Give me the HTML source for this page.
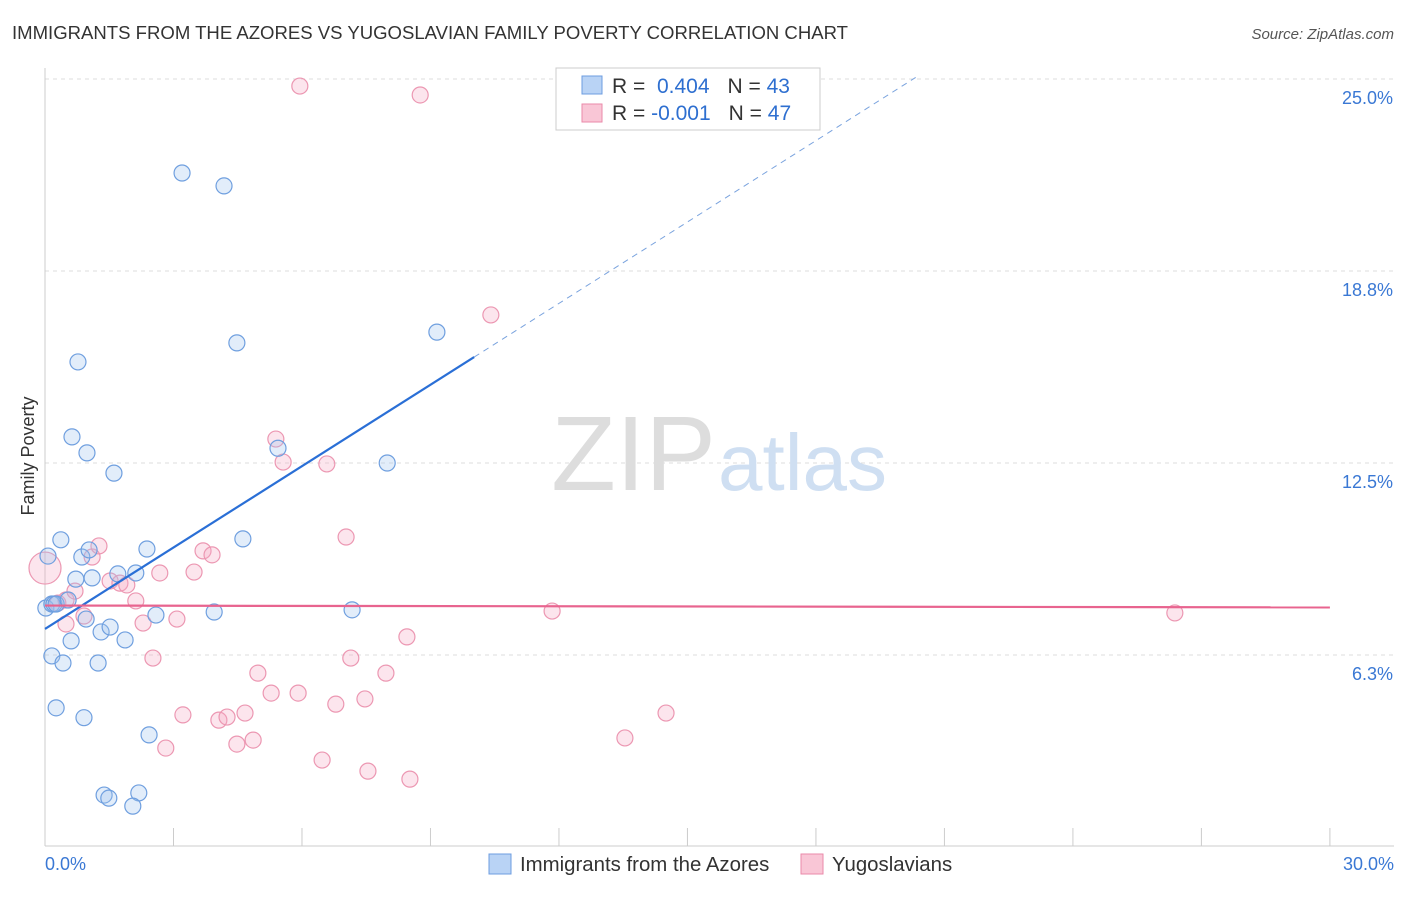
<!DOCTYPE html>
<html><head><meta charset="utf-8"><style>
body{margin:0;background:#fff;font-family:"Liberation Sans",sans-serif}
svg text{font-family:"Liberation Sans",sans-serif}
</style></head><body>
<svg id="c" width="1406" height="892">
<text x="12" y="39" font-size="18" fill="#333" textLength="836" lengthAdjust="spacingAndGlyphs">IMMIGRANTS FROM THE AZORES VS YUGOSLAVIAN FAMILY POVERTY CORRELATION CHART</text>
<text x="1394" y="39" font-size="15" fill="#555" font-style="italic" text-anchor="end">Source: ZipAtlas.com</text>
<g id="grid"></g>
<text x="716" y="490" font-size="106" fill="#ddd" text-anchor="end" font-family="Liberation Serif">ZIP</text>
<text x="718" y="490" font-size="80" fill="#cfdff2">atlas</text>
<text transform="translate(34,456) rotate(-90)" font-size="18" fill="#333" text-anchor="middle">Family Poverty</text>
<g id="pts"></g><g id="lines"></g>
<g>
<rect x="556" y="68" width="264" height="62" fill="#fff" stroke="#ccc"/>
<rect x="582" y="76" width="20" height="18" fill="#b9d3f5" stroke="#6d9de0"/>
<rect x="582" y="104" width="20" height="18" fill="#f9c6d6" stroke="#ea8aa9"/>
<text x="612" y="93" font-size="21" fill="#333">R = <tspan fill="#2e6fd0">&#160;0.404</tspan><tspan dx="18">N = </tspan><tspan fill="#2e6fd0">43</tspan></text>
<text x="612" y="120" font-size="21" fill="#333">R = <tspan fill="#2e6fd0">-0.001</tspan><tspan dx="18">N = </tspan><tspan fill="#2e6fd0">47</tspan></text>
</g>
<g>
<rect x="489" y="854" width="22" height="20" fill="#b9d3f5" stroke="#6d9de0"/>
<text x="520" y="871" font-size="20.4" fill="#333">Immigrants from the Azores</text>
<rect x="801" y="854" width="22" height="20" fill="#f9c6d6" stroke="#ea8aa9"/>
<text x="832" y="871" font-size="20.4" fill="#333">Yugoslavians</text>
</g>
</svg>
<script>
const yTicks=[25.0,18.8,12.5,6.3];
const yTickVals=[25,18.75,12.5,6.25];
const xTickLabels=["0.0%","30.0%"];
const blueX=[0.07,0.02,0.16,0.26,0.16,0.37,0.42,0.61,0.63,0.72,0.77,0.86,0.91,0.96,0.98,1.03,1.10,1.24,1.31,1.38,1.49,1.52,1.61,1.70,1.87,2.12,2.19,2.05,2.38,2.43,2.59,3.20,3.95,4.18,4.48,4.62,5.44,7.17,7.99,9.15,0.21,0.26,0.54];
const blueY=[9.47,7.78,6.22,4.53,7.91,10.00,5.99,6.71,13.35,8.72,15.79,9.44,4.21,7.42,12.83,9.67,8.76,5.99,7.00,1.69,1.59,7.16,12.17,8.89,6.74,8.92,1.76,1.33,9.70,3.65,7.55,21.94,7.65,21.52,16.41,10.03,12.98,7.72,12.50,16.76,7.91,7.91,8.04];
const pinkX=[0,0.30,0.49,0.70,0.49,0.91,1.10,1.26,1.52,1.75,1.91,2.12,2.29,2.52,2.68,2.82,3.08,3.22,3.48,3.69,3.90,4.06,4.25,4.48,4.67,4.86,4.97,5.28,5.39,5.56,5.91,5.95,6.47,6.58,6.79,7.03,7.14,7.47,7.54,7.96,8.45,8.52,8.76,10.41,11.84,13.54,14.50,26.38];
const pinkY=[9.08,7.94,8.04,8.33,7.26,7.52,9.44,9.80,8.66,8.59,8.53,8.01,7.29,6.15,8.92,3.22,7.42,4.30,8.95,9.64,9.51,4.13,4.23,3.35,4.36,3.48,5.66,5.01,13.28,12.53,5.01,24.77,2.83,12.47,4.65,10.09,6.15,4.82,2.47,5.66,6.84,2.21,24.48,17.32,7.68,3.55,4.36,7.62];
const blueFit=[7.10,0.883], pinkFit=[7.86,-0.002];
const X=v=>45+v*42.83, Y=v=>847-v*30.72;
const ns="http://www.w3.org/2000/svg";
function mk(t,a,p){const e=document.createElementNS(ns,t);for(const k in a)e.setAttribute(k,a[k]);p.appendChild(e);return e;}
const g=document.getElementById('grid');
yTickVals.forEach((v,i)=>{
 const l=mk('line',{x1:45,x2:1394,y1:Y(v),y2:Y(v),stroke:'#ddd','stroke-dasharray':'4,4'},g);
 
 
 const t=mk('text',{x:1393,y:Y(v)+25,'font-size':18,fill:'#3a78d4','text-anchor':'end'},g);
 t.textContent=yTicks[i].toFixed(1)+'%';
 
 
});
mk('line',{x1:45,x2:45,y1:68,y2:846,stroke:'#ccc'},g);
mk('line',{x1:45,x2:1394,y1:846,y2:846,stroke:'#ccc'},g);
for(let i=0;i<=10;i++){mk('line',{x1:X(i*3),x2:X(i*3),y1:828,y2:846,stroke:'#ccc'},g);}
[[0,xTickLabels[0],'start'],[30,xTickLabels[1],'end']].forEach(([v,s,a])=>{
 const t=mk('text',{x:v?1394:45,y:870,'font-size':18,fill:'#3a78d4','text-anchor':a},g);t.textContent=s;
 
 
});
const P=document.getElementById('pts');
pinkX.forEach((x,i)=>{const c=mk('circle',{cx:X(x),cy:Y(pinkY[i]),r:i==0?16:8,fill:'rgba(246,170,195,0.3)',stroke:'#ec97b2','stroke-width':1.2},P);
 
 });
blueX.forEach((x,i)=>{const c=mk('circle',{cx:X(x),cy:Y(blueY[i]),r:8,fill:'rgba(160,195,240,0.3)',stroke:'#6f9fdf','stroke-width':1.2},P);
 
 });
const L=document.getElementById('lines');
const fx=v=>blueFit[0]+blueFit[1]*v;
let a=mk('line',{x1:X(0),y1:Y(fx(0)),x2:X(10.02),y2:Y(fx(10.02)),stroke:'#2a6fd6','stroke-width':2.2},L);


const xe=(25.05-blueFit[0])/blueFit[1];
a=mk('line',{x1:X(10.02),y1:Y(fx(10.02)),x2:X(xe),y2:Y(fx(xe)),stroke:'#7aa3de','stroke-width':1,'stroke-dasharray':'6,5'},L);


a=mk('line',{x1:X(0),y1:Y(pinkFit[0]),x2:X(30),y2:Y(pinkFit[0]+pinkFit[1]*30),stroke:'#e8648f','stroke-width':2.2},L);


</script>
</body></html>
